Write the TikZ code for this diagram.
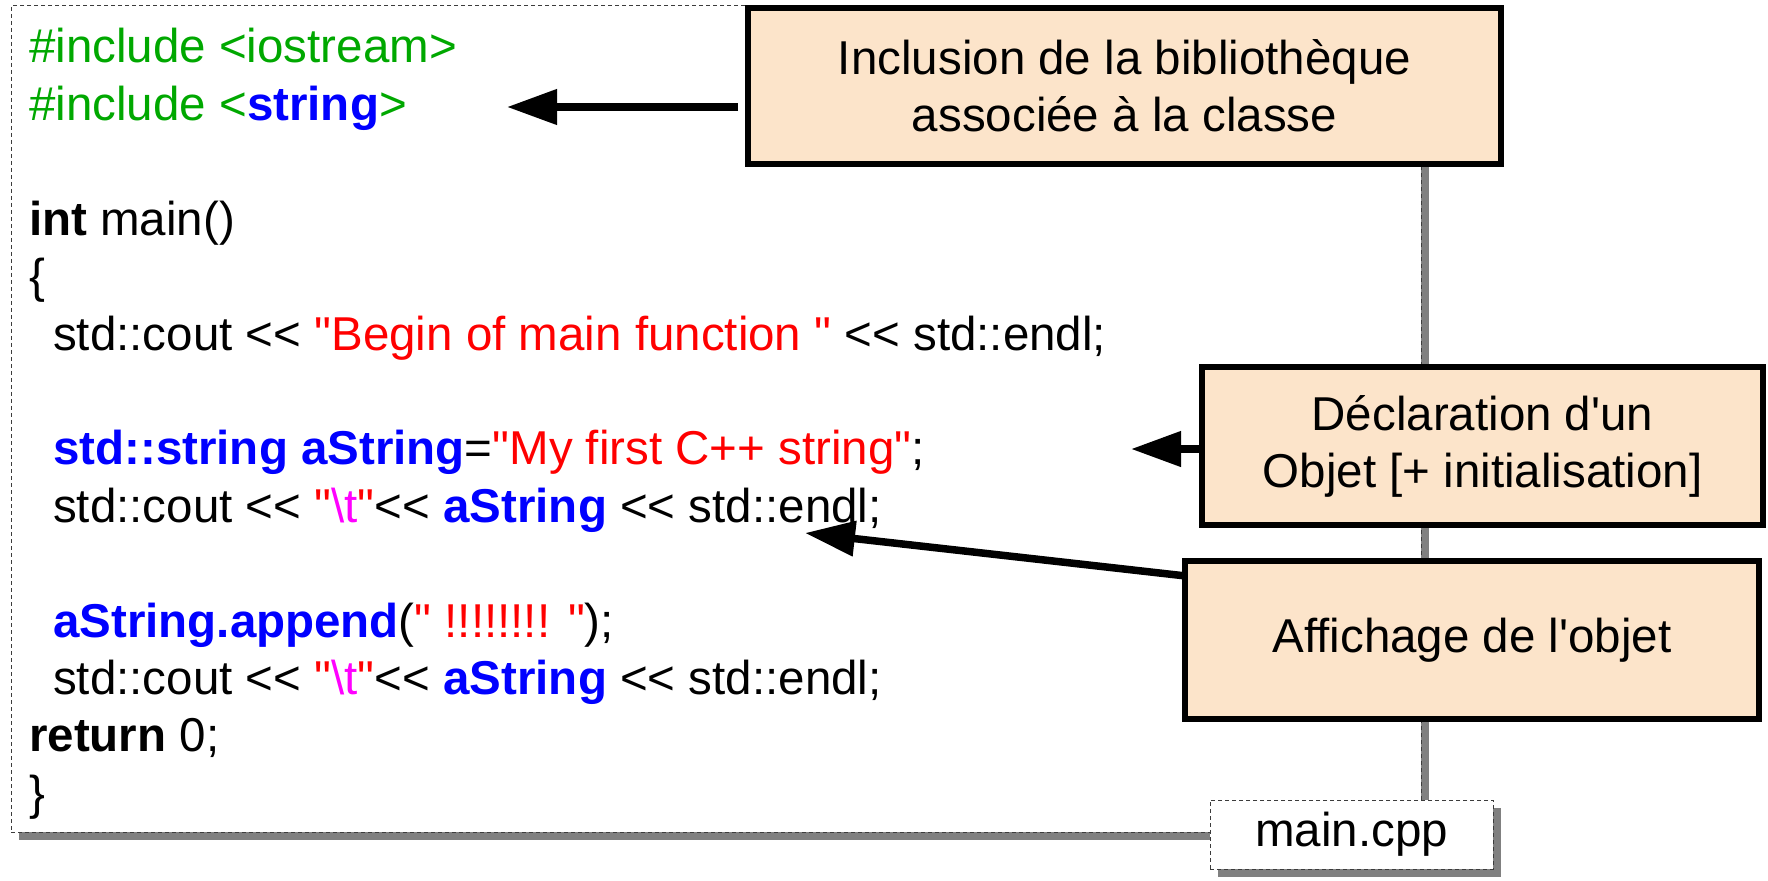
\documentclass[tikz,border=0pt]{standalone}
\usepackage{fontspec}
\setmainfont{Liberation Sans}[Ligatures=TeXOff]
\usetikzlibrary{arrows.meta,shadows}

\definecolor{incgreen}{RGB}{0,168,0}
\definecolor{kwblue}{RGB}{0,0,255}
\definecolor{strred}{RGB}{255,0,0}
\definecolor{escmag}{RGB}{255,0,255}
\definecolor{notefill}{RGB}{252,228,202}
\definecolor{shadowgray}{RGB}{128,128,128}
\definecolor{framegray}{RGB}{60,60,60}

\newcommand\kwd[1]{\textcolor{kwblue}{\textbf{#1}}}
\newcommand\strg[1]{\textcolor{strred}{#1}}
\newcommand\tabesc{\strg{"}\textcolor{escmag}{\textbackslash t}\strg{"}}

\tikzset{
  bigtext/.style={font=\fontsize{47.5}{57}\selectfont},
  codeline/.style={bigtext, anchor=base west, inner sep=0pt},
  dashedframe/.style={draw=framegray, line width=1pt, dash pattern=on 4pt off 3pt,
    fill=white, inner sep=0pt,
    drop shadow={shadow xshift=8pt, shadow yshift=-8pt, opacity=1, fill=shadowgray}},
  notebox/.style={bigtext, draw=black, line width=6pt, fill=notefill,
    align=center, inner sep=0pt},
  pointer/.style={line width=7.5pt, -{Triangle[length=50pt,width=34pt]}}
}

\begin{document}
\begin{tikzpicture}[x=1pt,y=-1pt]
\useasboundingbox (0,0) rectangle (1768,880);

% source file frame
\node[dashedframe, minimum width=1410pt, minimum height=826pt] (frame) at (716,419) {};

% code lines
\node[codeline] (l0)  at (29,63)    {\textcolor{incgreen}{\#include <iostream>}};
\node[codeline] (l1)  at (29,120.4) {\textcolor{incgreen}{\#include <}\kwd{string}\textcolor{incgreen}{>}};
\node[codeline] (l3)  at (29,235.2) {\textbf{int} main()};
\node[codeline] (l4)  at (29,292.6) {\{};
\node[codeline] (l5)  at (53,350)   {std::cout << \strg{"Begin of main function "} << std::endl;};
\node[codeline] (l7)  at (53,464.8) {\kwd{std::string aString}=\strg{"My first C++ string"};};
\node[codeline] (l8)  at (53,522.2) {std::cout << \tabesc<< \kwd{aString} << std::endl;};
\node[codeline] (l10) at (53,637)   {\kwd{aString.append}(\strg{" !!!!!!!! "});};
\node[codeline] (l11) at (53,694.4) {std::cout << \tabesc<< \kwd{aString} << std::endl;};
\node[codeline] (l12) at (29,751.8) {\textbf{return} 0;};
\node[codeline] (l13) at (29,809.2) {\}};

% arrow targets
\coordinate (incTip)  at (507,107);
\coordinate (declTip) at (1131,449);
\coordinate (showTip) at (805,533);
\coordinate (showSrc) at (1186,576);

% annotation boxes
\node[notebox, minimum width=753pt, minimum height=156pt] (inc) at (1124.5,86)
  {Inclusion de la bibliothèque\\associée à la classe};
\node[notebox, minimum width=561pt, minimum height=158pt] (decl) at (1482.5,446)
  {Déclaration d\symbol{39}un\\Objet [+ initialisation]};
\node[notebox, minimum width=574pt, minimum height=158pt] (show) at (1472,640)
  {Affichage de l\symbol{39}objet};

% pointers from the notes to the code
\draw[pointer, shorten <=7pt] (inc.west |- incTip) -- (incTip);
\draw[pointer] (decl.west |- declTip) -- (declTip);
\draw[pointer] (showSrc) -- (showTip);

% file name tab
\node[dashedframe, bigtext, minimum width=283pt, minimum height=69pt] (fname) at (1351.5,834.5) {main.cpp};
\end{tikzpicture}
\end{document}
